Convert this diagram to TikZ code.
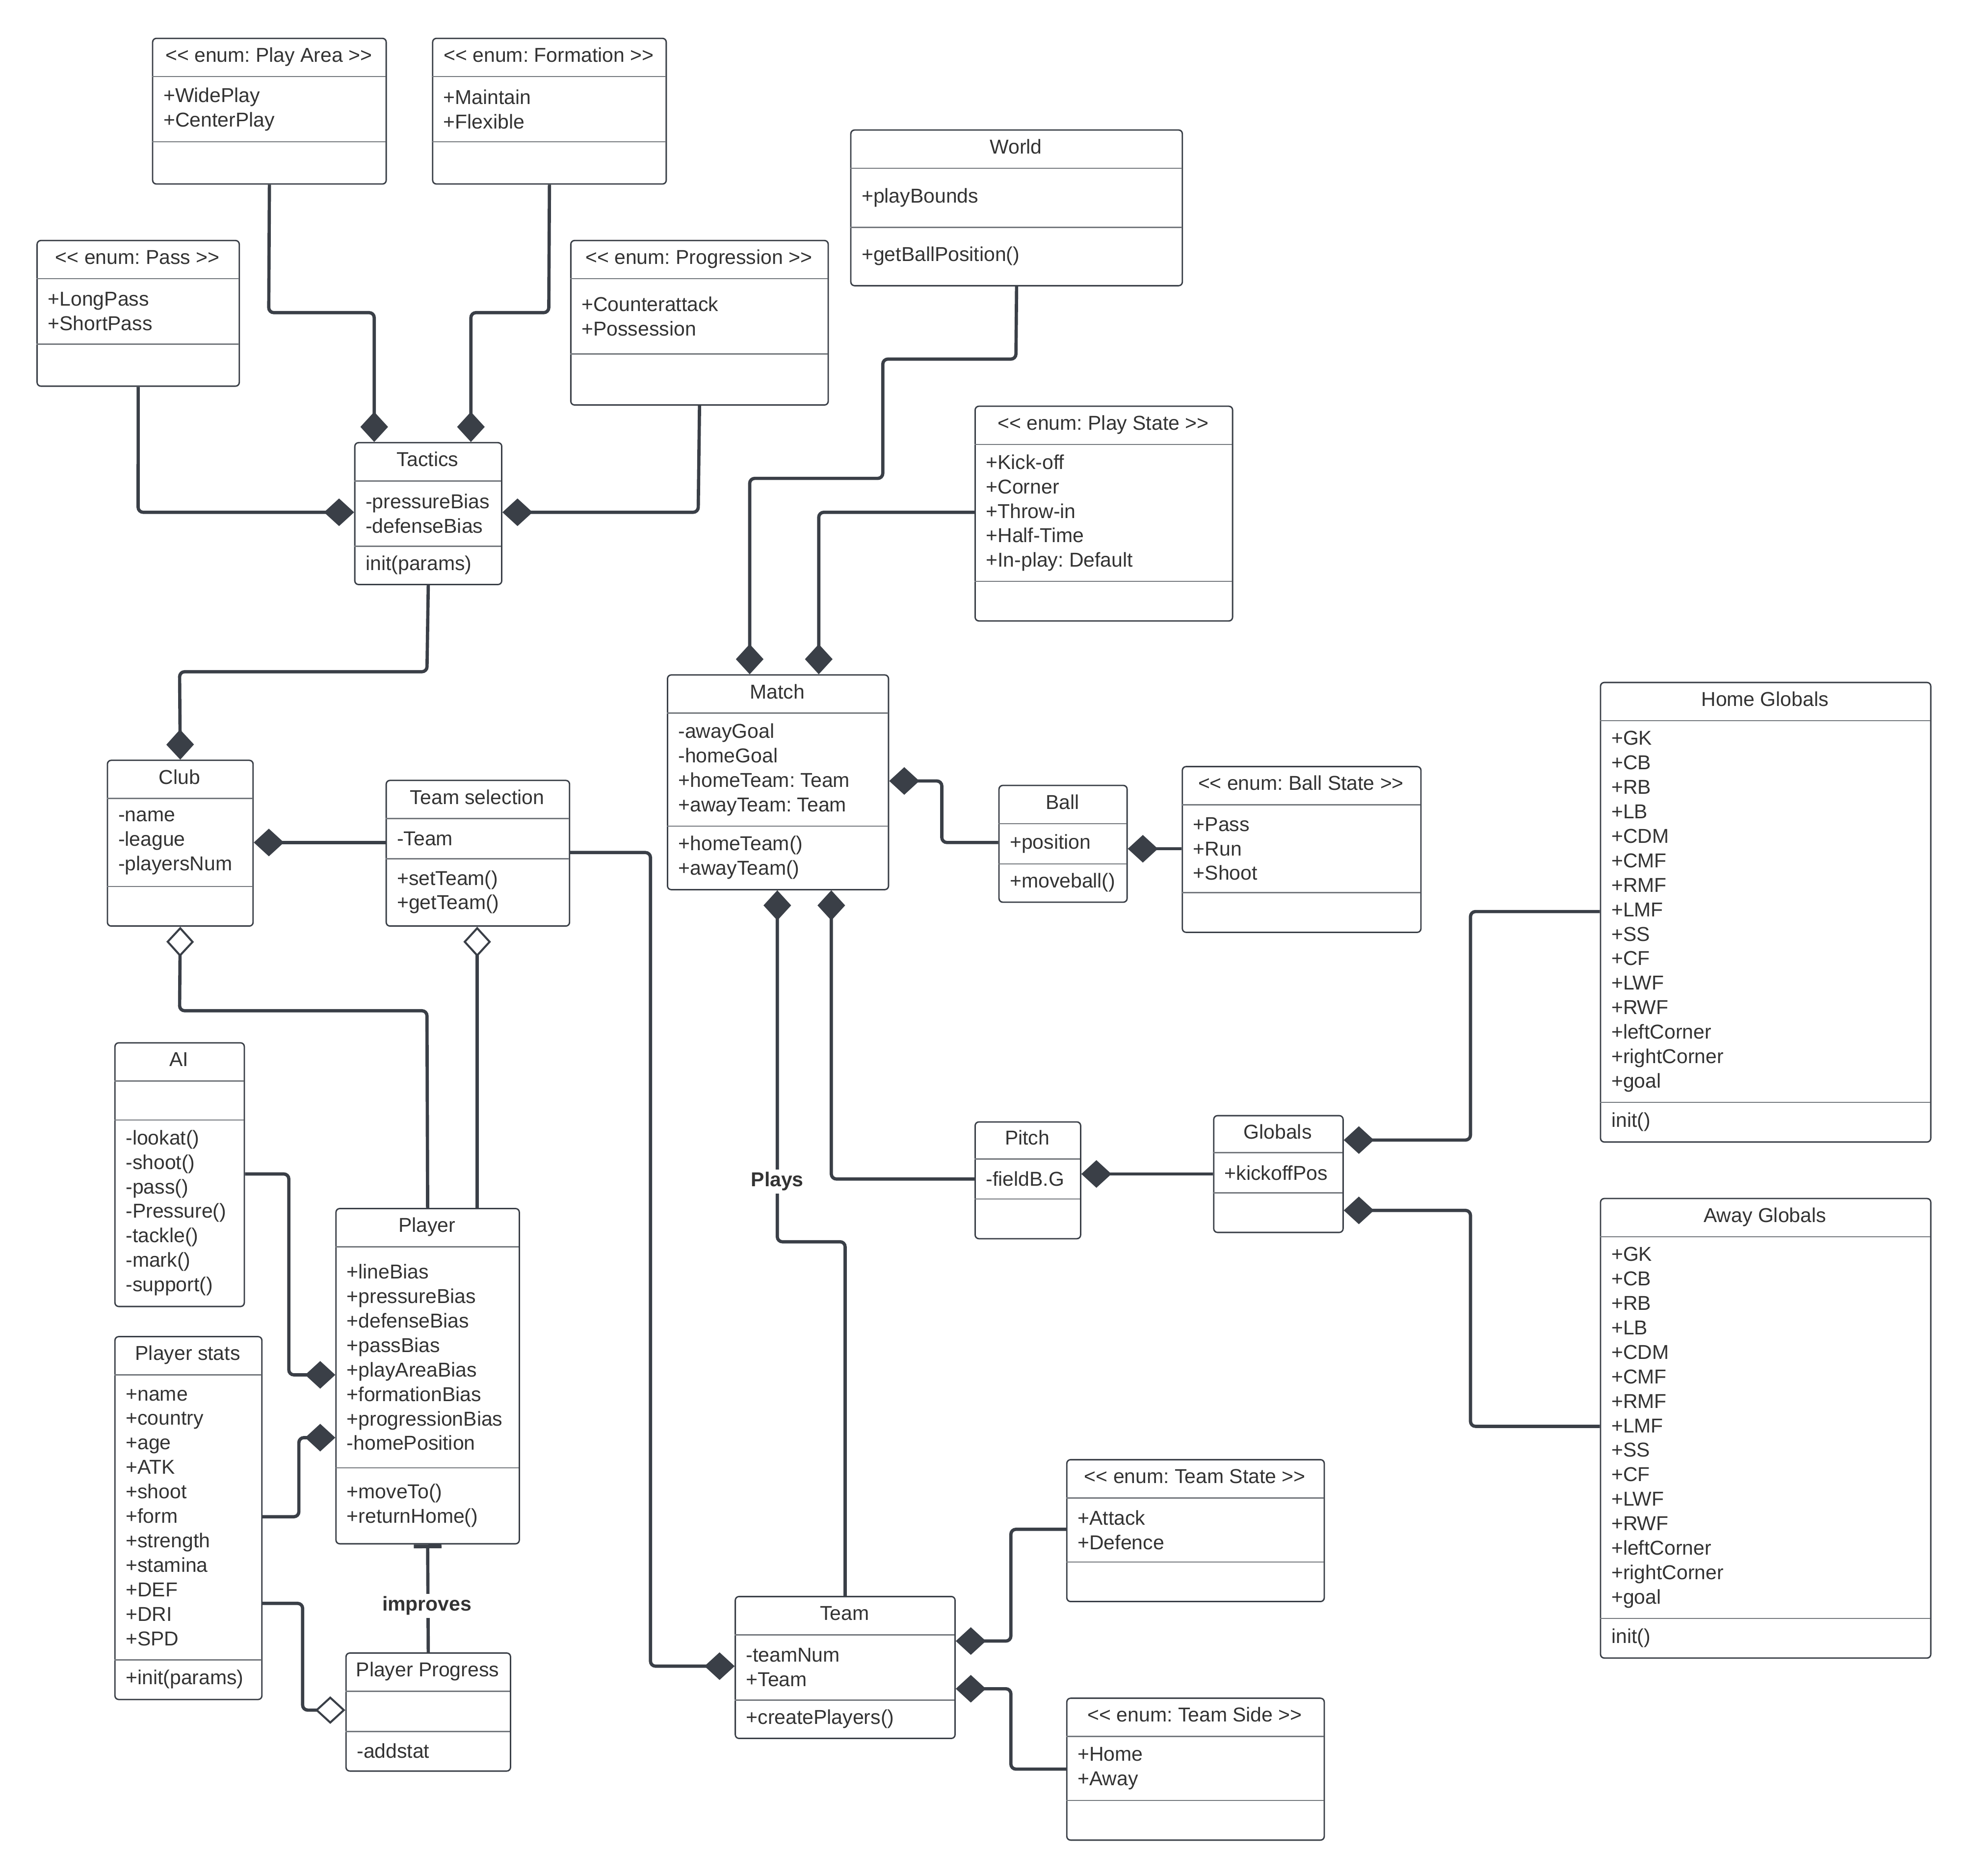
\documentclass[tikz,border=0pt]{standalone}
\usepackage{fontspec}
\setmainfont{Liberation Sans}[Ligatures=NoCommon]
\frenchspacing
\usetikzlibrary{arrows.meta}
\definecolor{ln}{HTML}{3A3F47}
\definecolor{tx}{HTML}{333333}
\tikzset{
  box/.style={draw=ln, line width=1.1pt, rounded corners=3pt, fill=white, inner sep=0pt, anchor=north west},
  sep/.style={draw=ln!70, line width=1pt},
  con/.style={draw=ln, line width=2.6pt, rounded corners=4pt},
  fd/.style={-{Diamond[length=24pt,width=22pt,fill=ln]}},
  od/.style={-{Diamond[length=24pt,width=22pt,open,fill=white,line width=1.6pt]}},
  fdd/.style={{Diamond[length=24pt,width=22pt,fill=ln]}-},
  odd/.style={{Diamond[length=24pt,width=22pt,open,fill=white,line width=1.6pt]}-},
  lbl/.style={font=\fontsize{16}{19}\selectfont\bfseries, text=tx, fill=white, inner sep=2pt},
}
\newcommand\lt{\symbol{60}\symbol{60}}
\newcommand\gt{\symbol{62}\symbol{62}}
\newcommand\cls[9]{\def\cN{#1}\def\cX{#2}\def\cY{#3}\def\cW{#4}\def\cA{#5}\def\cB{#6}\def\cC{#7}\def\cT{#8}\def\cAt{#9}\clsB}
\newcommand\clsB[1]{%
  \pgfmathsetmacro\cH{\cA+\cB+\cC}%
  \pgfmathsetmacro\yA{\cY+\cA}\pgfmathsetmacro\yB{\cY+\cA+\cB}%
  \pgfmathsetmacro\mA{\cY+\cA+\cB/2}\pgfmathsetmacro\mB{\cY+\cA+\cB+\cC/2}%
  \pgfmathsetmacro\mT{\cY+\cA/2}\pgfmathsetmacro\xR{\cX+\cW}%
  \pgfmathsetmacro\xM{\cX+\cW/2}\pgfmathsetmacro\xL{\cX+9}%
  \node[box, minimum width=\cW pt, minimum height=\cH pt] (\cN) at (\cX,\cY) {};
  \draw[sep] (\cX,\yA) -- (\xR,\yA);
  \draw[sep] (\cX,\yB) -- (\xR,\yB);
  \node[anchor=center, inner sep=0pt] at (\xM,\mT) {\strut\cT};
  \node[anchor=west, align=left, inner sep=0pt] at (\xL,\mA) {\cAt};
  \node[anchor=west, align=left, inner sep=0pt] at (\xL,\mB) {#1};
}
\begin{document}
\begin{tikzpicture}[x=1pt,y=-1pt, font=\fontsize{16}{19.5}\selectfont, text=tx]
\fill[white] (0,0) rectangle (1568,1494);
\useasboundingbox (0,0) rectangle (1568,1494);

\cls{playarea}{121}{30}{186}{31}{52}{33}{\lt{} enum: Play Area \gt}{+WidePlay\\+CenterPlay}{}
\cls{formation}{344}{30}{186}{31}{52}{33}{\lt{} enum: Formation \gt}{+Maintain\\+Flexible}{}
\cls{pass}{29}{191}{161}{31}{52}{33}{\lt{} enum: Pass \gt}{+LongPass\\+ShortPass}{}
\cls{progression}{454}{191}{205}{31}{60}{40}{\lt{} enum: Progression \gt}{+Counterattack\\+Possession}{}
\cls{world}{677}{103}{264}{31}{47}{46}{World}{+playBounds}{+getBallPosition()}
\cls{tactics}{282}{352}{117}{31}{52}{30}{Tactics}{-pressureBias\\-defenseBias}{init(params)}
\cls{playstate}{776}{323}{205}{31}{109}{31}{\lt{} enum: Play State \gt}{+Kick-off\\+Corner\\+Throw-in\\+Half-Time\\+In-play: Default}{}
\cls{match}{531}{537}{176}{31}{90}{50}{Match}{-awayGoal\\-homeGoal\\+homeTeam: Team\\+awayTeam: Team}{+homeTeam()\\+awayTeam()}
\cls{club}{85}{605}{116}{31}{70}{31}{Club}{-name\\-league\\-playersNum}{}
\cls{teamsel}{307}{621}{146}{31}{32}{53}{Team selection}{-Team}{+setTeam()\\+getTeam()}
\cls{ball}{795}{625}{102}{31}{32}{30}{Ball}{+position}{+moveball()}
\cls{ballstate}{941}{610}{190}{31}{70}{31}{\lt{} enum: Ball State \gt}{+Pass\\+Run\\+Shoot}{}
\cls{homeg}{1274}{543}{263}{31}{304}{31}{Home Globals}{+GK\\+CB\\+RB\\+LB\\+CDM\\+CMF\\+RMF\\+LMF\\+SS\\+CF\\+LWF\\+RWF\\+leftCorner\\+rightCorner\\+goal}{init()}
\cls{ai}{91}{830}{103}{31}{31}{148}{AI}{}{-lookat()\\-shoot()\\-pass()\\-Pressure()\\-tackle()\\-mark()\\-support()}
\cls{pitch}{776}{893}{84}{30}{32}{31}{Pitch}{-fieldB.G}{}
\cls{globals}{966}{888}{103}{30}{32}{31}{Globals}{+kickoffPos}{}
\cls{awayg}{1274}{954}{263}{31}{304}{31}{Away Globals}{+GK\\+CB\\+RB\\+LB\\+CDM\\+CMF\\+RMF\\+LMF\\+SS\\+CF\\+LWF\\+RWF\\+leftCorner\\+rightCorner\\+goal}{init()}
\cls{player}{267}{962}{146}{31}{176}{60}{Player}{+lineBias\\+pressureBias\\+defenseBias\\+passBias\\+playAreaBias\\+formationBias\\+progressionBias\\-homePosition}{+moveTo()\\+returnHome()}
\cls{pstats}{91}{1064}{117}{31}{227}{31}{Player stats}{+name\\+country\\+age\\+ATK\\+shoot\\+form\\+strength\\+stamina\\+DEF\\+DRI\\+SPD}{+init(params)}
\cls{pprog}{275}{1316}{131}{31}{32}{31}{Player Progress}{}{-addstat}
\cls{team}{585}{1271}{175}{31}{52}{30}{Team}{-teamNum\\+Team}{+createPlayers()}
\cls{teamstate}{849}{1162}{205}{31}{51}{31}{\lt{} enum: Team State \gt}{+Attack\\+Defence}{}
\cls{teamside}{849}{1352}{205}{31}{51}{31}{\lt{} enum: Team Side \gt}{+Home\\+Away}{}

% connectors
\draw[con,fd] (playarea.south) -- (214,249) -- (298,249) -- (298,0 |- tactics.north);
\draw[con,fd] (formation.south) -- (437,249) -- (375,249) -- (375,0 |- tactics.north);
\draw[con,fd] (pass.south) -- (110,408) -- (tactics.west |- 0,408);
\draw[con,fd] (progression.south) -- (556,408) -- (tactics.east |- 0,408);
\draw[con,fd] (tactics.south) -- (340,535) -- (143,535) -- (club.north);
\draw[con,fd] (world.south) -- (809,286) -- (703,286) -- (703,381) -- (597,381) -- (597,0 |- match.north);
\draw[con,fd] (playstate.west |- 0,408) -- (652,408) -- (652,0 |- match.north);
\draw[con,fdd] (club.east |- 0,671) -- (teamsel.west |- 0,671);
\draw[con,odd] (club.south) -- (143,805) -- (340,805) -- (player.north);
\draw[con,odd] (380,0 |- teamsel.south) -- (380,0 |- player.north);
\draw[con,fd] (teamsel.east |- 0,679) -- (518,679) -- (518,1327) -- (team.west |- 0,1327);
\draw[con,fdd] (match.east |- 0,622) -- (750,622) -- (750,671) -- (ball.west |- 0,671);
\draw[con,fdd] (ball.east |- 0,676) -- (ballstate.west |- 0,676);
\draw[con,fdd] (619,0 |- match.south) -- (619,989) -- (673,989) -- (673,0 |- team.north);
\node[lbl] at (619,941) {Plays};
\draw[con,fdd] (662,0 |- match.south) -- (662,939) -- (pitch.west |- 0,939);
\draw[con,fdd] (pitch.east |- 0,935) -- (globals.west |- 0,935);
\draw[con,fdd] (globals.east |- 0,908) -- (1171,908) -- (1171,726) -- (homeg.west |- 0,726);
\draw[con,fdd] (globals.east |- 0,964) -- (1171,964) -- (1171,1136) -- (awayg.west |- 0,1136);
\draw[con,fd] (ai.east |- 0,935) -- (230,935) -- (230,1095) -- (player.west |- 0,1095);
\draw[con,fd] (pstats.east |- 0,1208) -- (238,1208) -- (238,1145) -- (player.west |- 0,1145);
\draw[con,od] (pstats.east |- 0,1277) -- (241,1277) -- (241,1362) -- (pprog.west |- 0,1362);
\draw[con,{Bar[width=22pt,line width=3pt]}-] (player.south) -- (pprog.north);
\node[lbl] at (340,1279) {improves};
\draw[con,fdd] (team.east |- 0,1307) -- (805,1307) -- (805,1218) -- (teamstate.west |- 0,1218);
\draw[con,fdd] (team.east |- 0,1345) -- (805,1345) -- (805,1409) -- (teamside.west |- 0,1409);
\end{tikzpicture}
\end{document}
